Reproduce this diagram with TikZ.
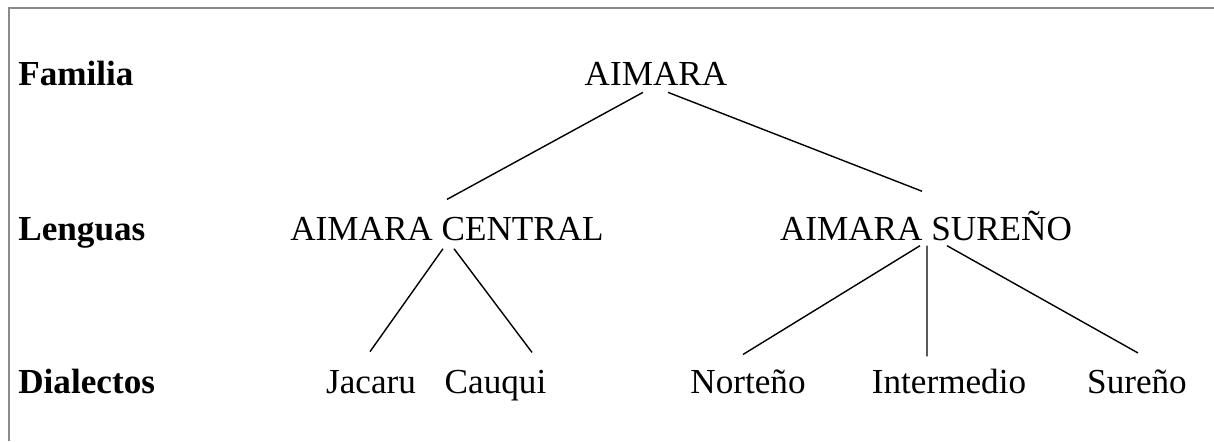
\documentclass[tikz,border=0pt]{standalone}
\usepackage{fontspec}
\setmainfont{Liberation Serif}
\usepackage{xcolor}
\definecolor{cframe}{HTML}{8A8A8A}

\begin{document}
\begin{tikzpicture}[every node/.style={
      inner sep=0pt, anchor=base,
      font=\fontsize{20}{24}\selectfont},
    rowlabel/.style={anchor=base west, font=\fontsize{20}{24}\selectfont\bfseries},
    branch/.style={line width=0.8pt}]
    \useasboundingbox (0,0) rectangle (24.28,8.82);
    % frame
    \draw[cframe, line width=1.1pt] (0.18,0) -- (0.18,8.66) -- (24.28,8.66);
    % row labels
    \node[rowlabel] (familia) at (0.36,7.12) {Familia};
    \node[rowlabel] (lenguas) at (0.36,4.02) {Lenguas};
    \node[rowlabel] (dialectos) at (0.36,0.96) {Dialectos};
    % tree
    \node (aimara) at (13.12,7.12) {AIMARA};
    \node (central) at (8.94,4.02) {AIMARA CENTRAL};
    \node (sureno) at (18.52,4.02) {AIMARA SUREÑO};
    \node (jacaru) at (7.42,0.96) {Jacaru};
    \node (cauqui) at (9.91,0.96) {Cauqui};
    \node (norteno) at (14.96,0.96) {Norteño};
    \node (intermedio) at (18.98,0.96) {Intermedio};
    \node (surenod) at (22.74,0.96) {Sureño};
    \draw[branch] ([xshift=-2.6mm,yshift=-1.4mm]aimara.south) -- ([yshift=3.4mm]central.north);
    \draw[branch] ([xshift=2.4mm,yshift=-1.4mm]aimara.south) -- ([xshift=-0.8mm,yshift=3.8mm]sureno.north);
    \draw[branch] ([xshift=-0.8mm,yshift=-1.6mm]central.south) -- ([xshift=-0.2mm,yshift=3.6mm]jacaru.north);
    \draw[branch] ([xshift=1.4mm,yshift=-1.6mm]central.south) -- ([xshift=7.3mm,yshift=3.4mm]cauqui.north);
    \draw[branch] ([xshift=-1.2mm,yshift=-1mm]sureno.south) -- ([xshift=-1mm,yshift=2.9mm]norteno.north);
    \draw[branch] ([xshift=0.2mm,yshift=-1mm]sureno.south) -- ([xshift=-4.4mm,yshift=2.4mm]intermedio.north);
    \draw[branch] ([xshift=4.2mm,yshift=-1mm]sureno.south) -- ([xshift=0.2mm,yshift=3.2mm]surenod.north);
\end{tikzpicture}
\end{document}
